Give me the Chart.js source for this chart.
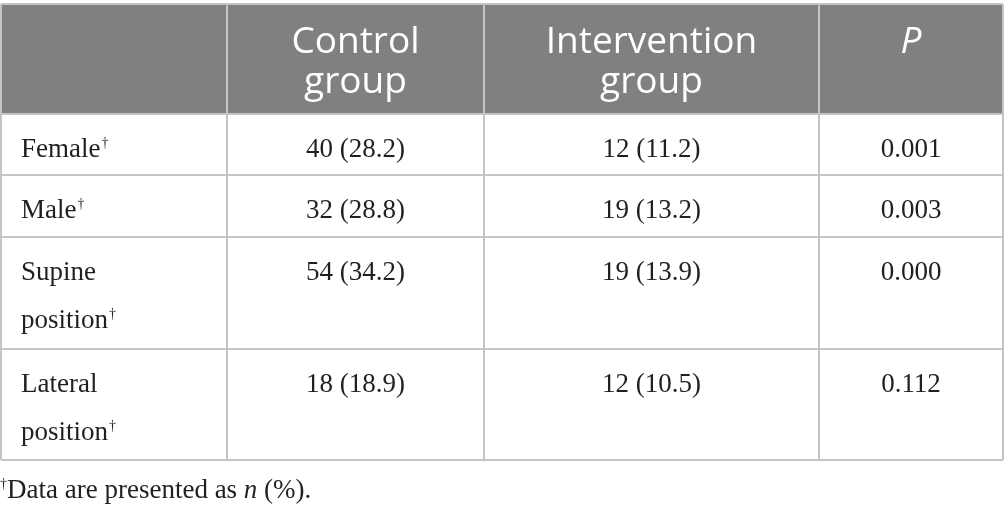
<!DOCTYPE html>
<html>
<head>
<meta charset="utf-8">
<script src="https://cdn.jsdelivr.net/npm/chart.js@4"></script>
<style>
  html, body { margin: 0; padding: 0; background: #fff; }
  #wrap { width: 1005px; height: 512px; position: relative; }
</style>
</head>
<body>
<div id="wrap"><canvas id="tableChart"></canvas></div>
<script>
// table content
const headers = [[''], ['Control', 'group'], ['Intervention', 'group'], ['P']];
const rowLabels = [['Female'], ['Male'], ['Supine', 'position'], ['Lateral', 'position']];
const controlN = [40, 32, 54, 18];
const controlPct = [28.2, 28.8, 34.2, 18.9];
const interventionN = [12, 19, 19, 12];
const interventionPct = [11.2, 13.2, 13.9, 10.5];
const pValues = [0.001, 0.003, 0.000, 0.112];
const footnote = ['Data are presented as ', 'n', ' (%).'];

// grid layout (column / row edges in scale units)
const colEdges = [0, 226, 483, 818, 1002];
const rowEdges = [0, 110, 171, 233, 345, 456];

const SANS = '"Open Sans", sans-serif';
const SERIF = '"Liberation Serif", "Times New Roman", serif';
const LINE = '#c4c4c4';

function cellText(i) {
  return [
    `${controlN[i]} (${controlPct[i].toFixed(1)})`,
    `${interventionN[i]} (${interventionPct[i].toFixed(1)})`,
    pValues[i].toFixed(3)
  ];
}

const tablePlugin = {
  id: 'tablePlugin',
  beforeDraw(chart) {
    const { ctx, scales: { x, y } } = chart;
    ctx.save();
    ctx.fillStyle = '#808080';
    const top = y.getPixelForValue(rowEdges[0]);
    const bot = y.getPixelForValue(rowEdges[1]);
    ctx.fillRect(x.getPixelForValue(colEdges[0]), top, x.getPixelForValue(colEdges[4]) - x.getPixelForValue(colEdges[0]), bot - top);
    ctx.restore();
  },
  afterDraw(chart) {
    const { ctx, scales: { x, y } } = chart;
    ctx.save();
    ctx.textBaseline = 'alphabetic';

    // header
    ctx.fillStyle = '#ffffff';
    ctx.textAlign = 'center';
    headers.forEach((lines, c) => {
      const cx = (x.getPixelForValue(colEdges[c]) + x.getPixelForValue(colEdges[c + 1])) / 2;
      lines.forEach((t, k) => {
        ctx.font = (t === 'P' ? 'italic ' : '') + '37px ' + SANS;
        ctx.fillText(t, cx, y.getPixelForValue(rowEdges[0]) + 49 + k * 40);
      });
    });

    // body rows
    ctx.fillStyle = '#231f20';
    rowLabels.forEach((lines, r) => {
      const top = y.getPixelForValue(rowEdges[r + 1]);
      ctx.textAlign = 'left';
      lines.forEach((t, k) => {
        const by = top + 43 + k * 48;
        ctx.font = '27px ' + SERIF;
        ctx.fillText(t, 21, by);
        if (k === lines.length - 1) {
          const w = ctx.measureText(t).width;
          ctx.font = '14px ' + SERIF;
          ctx.fillText('\u2020', 21 + w + 1, by - 10);
        }
      });
      ctx.textAlign = 'center';
      ctx.font = '27px ' + SERIF;
      cellText(r).forEach((t, c) => {
        const cx = (x.getPixelForValue(colEdges[c + 1]) + x.getPixelForValue(colEdges[c + 2])) / 2;
        ctx.fillText(t, cx, top + 43);
      });
    });

    // footnote
    ctx.textAlign = 'left';
    let fx = 0;
    const fy = 498;
    ctx.font = '14px ' + SERIF;
    ctx.fillText('\u2020', fx, fy - 10);
    fx += ctx.measureText('\u2020').width;
    footnote.forEach((t, k) => {
      ctx.font = (k === 1 ? 'italic ' : '') + '27px ' + SERIF;
      ctx.fillText(t, fx, fy);
      fx += ctx.measureText(t).width;
    });
    ctx.restore();
  }
};

function gridAxis(edges, reverse) {
  return {
    type: 'linear',
    min: edges[0],
    max: edges[edges.length - 1],
    reverse: reverse,
    afterBuildTicks: axis => { axis.ticks = edges.map(v => ({ value: v })); },
    ticks: { display: false },
    border: { display: false },
    grid: { color: LINE, lineWidth: 2, drawTicks: false }
  };
}

new Chart(document.getElementById('tableChart'), {
  type: 'scatter',
  data: { datasets: [] },
  options: {
    responsive: true,
    maintainAspectRatio: false,
    animation: false,
    events: [],
    layout: { padding: { top: 4, bottom: 52, left: 1, right: 2 } },
    plugins: { legend: { display: false }, tooltip: { enabled: false } },
    scales: {
      x: gridAxis(colEdges, false),
      y: gridAxis(rowEdges, true)
    }
  },
  plugins: [tablePlugin]
});
</script>
</body>
</html>
